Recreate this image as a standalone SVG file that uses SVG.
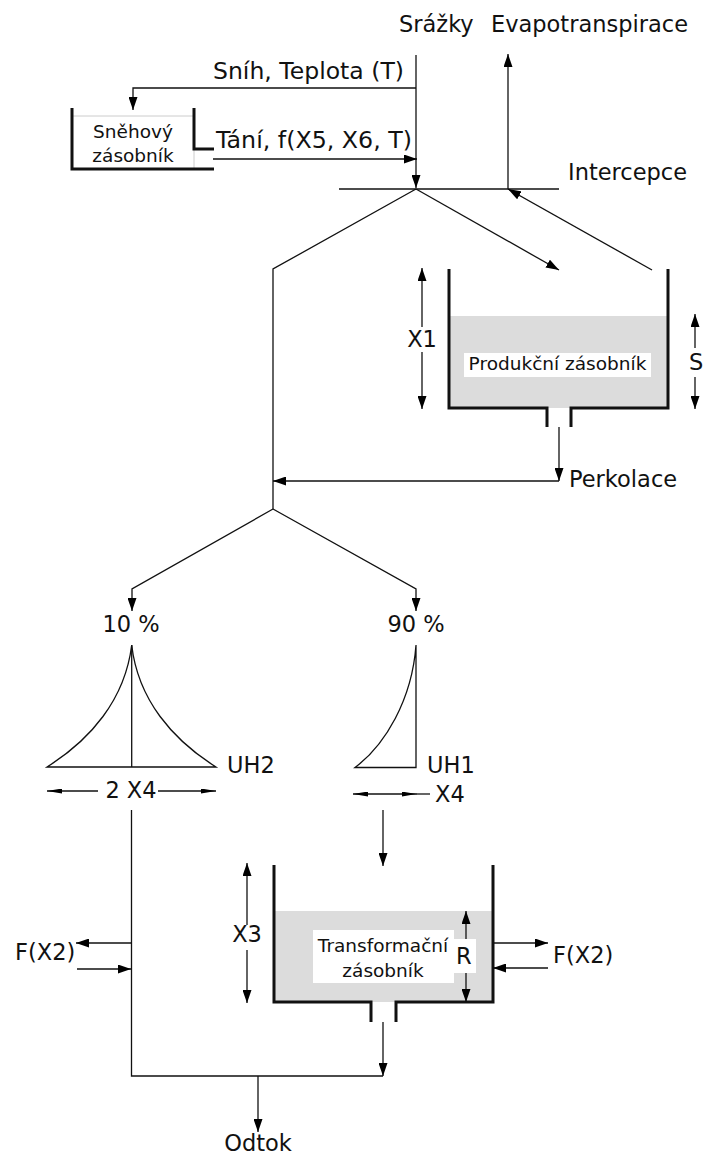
<svg xmlns="http://www.w3.org/2000/svg" width="704" height="1157" viewBox="0 0 704 1157">
<defs>
<marker id="ah" markerUnits="userSpaceOnUse" markerWidth="13" markerHeight="9" refX="13" refY="4.5" orient="auto-start-reverse">
<path d="M0,0 L13,4.5 L0,9 z" fill="#000"/>
</marker>
<marker id="an" markerUnits="userSpaceOnUse" markerWidth="15" markerHeight="5" refX="15" refY="2.5" orient="auto-start-reverse">
<path d="M0,0 L15,2.5 L0,5 z" fill="#000"/>
</marker>
</defs>
<style>
.t{font-family:"DejaVu Sans",Verdana,sans-serif;font-size:22.5px;fill:#111}
.s{font-family:"DejaVu Sans",Verdana,sans-serif;font-size:18.5px;fill:#111}
.m{text-anchor:middle}
.ln{fill:none;stroke:#111;stroke-width:1.3}
.ar{fill:none;stroke:#111;stroke-width:1.3;marker-end:url(#ah)}
.wall{fill:none;stroke:#111;stroke-width:3}
.water{fill:#dcdcdc}
.box{fill:#fff}
</style>
<rect width="704" height="1157" fill="#fff"/>

<g id="labels">
<text class="t" x="399" y="32">Srážky</text>
<text class="t" x="491" y="32">Evapotranspirace</text>
<text class="t" x="213" y="79" textLength="191" lengthAdjust="spacingAndGlyphs">Sníh, Teplota (T)</text>
<text class="t" x="216" y="148" textLength="196" lengthAdjust="spacingAndGlyphs">Tání, f(X5, X6, T)</text>
<text class="t" x="568" y="180">Intercepce</text>
<text class="t" x="569" y="487">Perkolace</text>
<text class="t m" x="131" y="632">10 %</text>
<text class="t m" x="416" y="632">90 %</text>
<text class="t" x="15" y="960">F(X2)</text>
<text class="t" x="553" y="963">F(X2)</text>
<text class="t m" x="258" y="1151">Odtok</text>
</g>

<g id="snow-store">
<line x1="72" y1="116" x2="194" y2="116" stroke="#ccc" stroke-width="1"/>
<line x1="194" y1="149" x2="194" y2="169" stroke="#ccc" stroke-width="1"/>
<path class="wall" d="M72,108 V169 H214"/>
<path class="wall" d="M194,108 V149 H214"/>
<text class="s m" x="133" y="138">Sněhový</text>
<text class="s m" x="133" y="162">zásobník</text>
</g>

<g id="production-store">
<rect class="water" x="449" y="316" width="219" height="92"/>
<path class="wall" d="M449,269 V408 H547 V427"/>
<path class="wall" d="M668,269 V408 H571 V427"/>
<rect class="box" x="464" y="353" width="187" height="24"/>
<text class="s m" x="557.5" y="370">Produkční zásobník</text>
<path class="ar" d="M422,327 V268"/>
<path class="ar" d="M422,352 V409"/>
<text class="t m" x="422" y="347">X1</text>
<path class="ar" d="M695,348 V314"/>
<path class="ar" d="M695,377 V409"/>
<text class="t" x="689" y="370">S</text>
</g>

<g id="uh2">
<path class="ln" d="M47,767 C90,740 125,700 131.7,645 C138,700 173,740 216,767 Z"/>
<line class="ln" x1="131.7" y1="645" x2="131.7" y2="767"/>
<text class="t" x="227" y="773">UH2</text>
<path d="M98,791 H47" fill="none" stroke="#111" stroke-width="1.3" marker-end="url(#an)"/>
<path d="M158,791 H216" fill="none" stroke="#111" stroke-width="1.3" marker-end="url(#an)"/>
<text class="t m" x="131" y="798">2 X4</text>
</g>

<g id="uh1">
<path class="ln" d="M355,767.5 C385,745 412,700 416,645 V767.5 Z"/>
<text class="t" x="427" y="773">UH1</text>
<path d="M353,794 H416.5" fill="none" stroke="#111" stroke-width="1.3" marker-start="url(#an)" marker-end="url(#an)"/>
<line class="ln" x1="416" y1="794" x2="430" y2="794"/>
<text class="t" x="435" y="802">X4</text>
</g>

<g id="routing-store">
<rect class="water" x="274" y="911" width="219" height="91"/>
<path class="wall" d="M274,865 V1002 H371 V1022"/>
<path class="wall" d="M493,865 V1002 H396 V1022"/>
<path class="ar" d="M466,1002 V911" style="marker-start:url(#ah)"/>
<rect class="box" x="313" y="930" width="141" height="53"/>
<rect class="box" x="453" y="939" width="23" height="34"/>
<text class="s m" x="383" y="952">Transformační</text>
<text class="s m" x="383" y="977">zásobník</text>
<text class="t" x="456" y="964">R</text>
<path class="ar" d="M247,925 V863"/>
<path class="ar" d="M247,950 V1003"/>
<text class="t m" x="247" y="942">X3</text>
</g>

<g id="connectors">
<path class="ar" d="M416,55 V188"/>
<path class="ar" d="M416,88 H133 V110"/>
<path class="ar" d="M213,159 H417"/>
<line class="ln" x1="339" y1="189" x2="559" y2="189"/>
<path class="ar" d="M508,189 V54"/>
<path class="ln" d="M416,189 L273,269 V509"/>
<path class="ar" d="M416,189 L559,270"/>
<path class="ar" d="M652,270 L508,189"/>
<path class="ar" d="M559,427 V481"/>
<path class="ar" d="M559,481 H273"/>
<path class="ar" d="M273,509 L132,589 V611"/>
<path class="ar" d="M273,509 L416,589 V611"/>
<path class="ln" d="M131.5,810 V1076 H383"/>
<path class="ar" d="M383,810 V866"/>
<path class="ar" d="M383,1022 V1076"/>
<path class="ar" d="M258,1076 V1132"/>
<path class="ar" d="M131.5,943 H76"/>
<path class="ar" d="M77,969 H131"/>
<path class="ar" d="M493,943 H548"/>
<path class="ar" d="M548,968 H493"/>
</g>
</svg>
